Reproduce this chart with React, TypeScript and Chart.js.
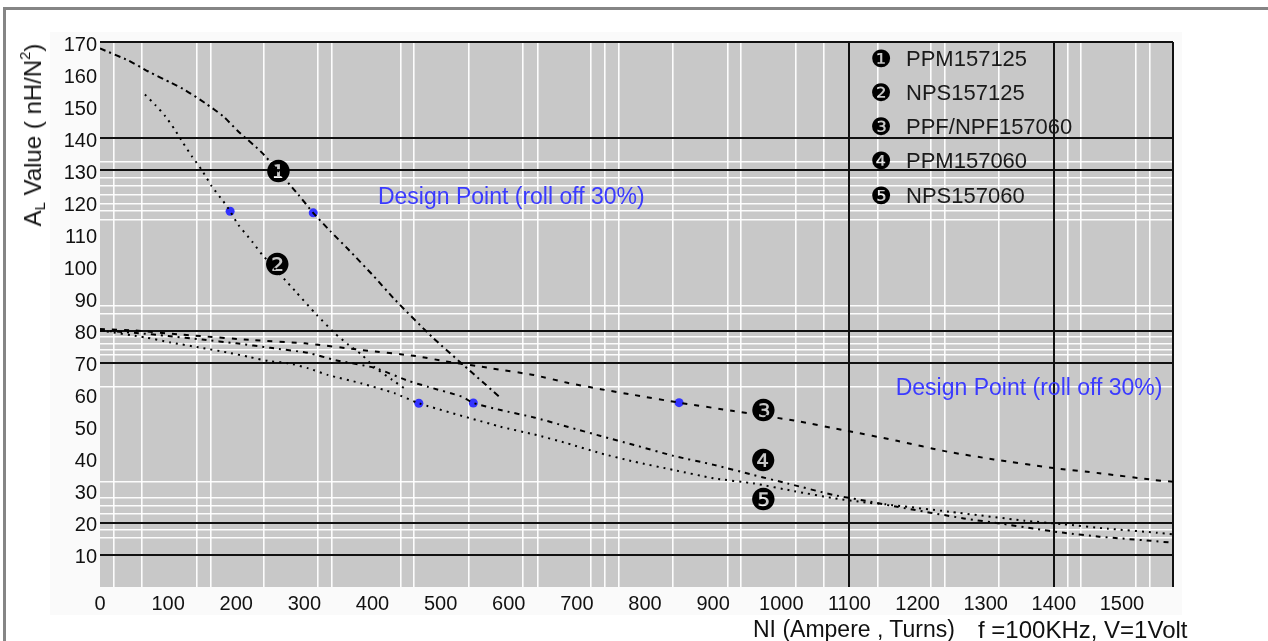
import React, { useEffect, useRef } from 'react';
import { Chart, registerables } from 'chart.js';

Chart.register(...registerables);

// ---------- axes / grid ----------
const xTickValues = [0, 100, 200, 300, 400, 500, 600, 700, 800, 900, 1000, 1100, 1200, 1300, 1400, 1500];
const xMax = 1575;
const yMax = 170;
const yTickValues = [10, 20, 30, 40, 50, 60, 70, 80, 90, 100, 110, 120, 130, 140, 150, 160, 170];
const xMajorLines = [1100, 1400, 1575];
const yMajorLines = [10, 20, 70, 80, 130, 140, 170];
const xMinorLines = [20, 61, 142, 162, 241, 320, 340, 441, 460, 541, 620, 642, 721, 741, 762, 841, 921, 941, 1021, 1062, 1141, 1220, 1240, 1320, 1420, 1440, 1521, 1541];
const yMinorLines = [15.2, 17.8, 22.7, 25.4, 27.8, 32.8, 62.5, 72.4, 74.1, 76, 78, 85.2, 87.8, 114.6, 117.2, 119.5, 122.4, 125, 127.6, 132.6];

// ---------- series ----------
const c1Name = 'PPM157125';
const c1X = [0, 42, 71, 105, 125, 154, 181, 203, 238, 291, 313, 338, 365, 402, 433, 489, 588];
const c1Y = [168, 164.2, 160.8, 157.2, 155, 151, 146.8, 142.1, 135.4, 122.4, 116.7, 111, 105.2, 96.9, 89.6, 77.7, 59];

const c2Name = 'NPS157125';
const c2X = [66, 81, 96, 110, 122, 135, 149, 164, 181, 191, 203, 223, 238, 287, 318, 345, 365, 384, 402, 429, 450];
const c2Y = [153.6, 150.4, 146.8, 142.6, 138.5, 134.3, 130.2, 125, 120.3, 117.2, 113, 107.8, 103.7, 92.2, 84.9, 79.1, 75.5, 72.5, 68.7, 64.6, 61.5];

const c3Name = 'PPF/NPF157060';
const c3X = [0, 51, 115, 140, 225, 301, 385, 465, 504, 575, 637, 686, 735, 784, 850, 930, 1019, 1097, 1170, 1244, 1312, 1396, 1467, 1547, 1575];
const c3Y = [80.5, 80, 78.8, 78.4, 77, 76, 73.9, 72, 70.5, 68.2, 66.1, 63.7, 61.7, 59.9, 57.5, 54.9, 51.9, 48.7, 45.6, 42.2, 39.8, 37.2, 35.5, 33.4, 32.8];

const c4Name = 'PPM157060';
const c4X = [0, 50, 100, 150, 200, 250, 306, 345, 404, 450, 482, 531, 548, 588, 637, 686, 735, 784, 842, 901, 960, 1009, 1077, 1131, 1170, 1268, 1325, 1371, 1415, 1467, 1501, 1543, 1575];
const c4Y = [80, 79.3, 78.3, 77.2, 76, 74.6, 73, 70.8, 68.3, 64.5, 62.4, 59.4, 57.4, 55.2, 52.9, 50, 47.1, 44.3, 40.9, 38.1, 34.9, 32.3, 28.7, 26.6, 25, 21.4, 19.7, 18.2, 16.9, 15.7, 15.1, 14.4, 13.8];

const c5Name = 'NPS157060';
const c5X = [0, 68, 103, 149, 186, 218, 247, 277, 306, 335, 384, 433, 468, 588, 637, 686, 735, 784, 842, 901, 960, 1019, 1077, 1126, 1153, 1246, 1357, 1413, 1479, 1552, 1575];
const c5Y = [80, 77.8, 76.3, 74.6, 73.2, 71.8, 70.5, 69.8, 68.2, 66.1, 63.5, 60.4, 57.3, 50, 47.6, 44.8, 41.7, 39.1, 36.5, 33.9, 32.3, 29.9, 27.7, 26.3, 25.8, 23.5, 20.7, 19.6, 18.2, 16.9, 16.4];

// design points (roll off 30%)
const dpX = [191, 313, 468, 548, 850];
const dpY = [117.2, 116.7, 57.3, 57.4, 57.5];

// in-plot curve number labels
const markerText = ['\u2776', '\u2777', '\u2778', '\u2779', '\u277A'];
const markerX = [262, 260, 974, 974, 974];
const markerY = [129, 100, 54.4, 38.8, 26.8];

// design point captions
const designText = ['Design Point (roll off 30%)', 'Design Point (roll off 30%)'];
const designX = [408, 1168];
const designY = [121.6, 62];

const legendNames = [c1Name, c2Name, c3Name, c4Name, c5Name];

const FONT = '"Liberation Sans", Arial, Helvetica, sans-serif';

const toPts = (xs: number[], ys: number[]) => xs.map((x, i) => ({ x, y: ys[i] }));

const decorPlugin = {
  id: 'decor',
  beforeDraw(chart: any) {
    const { ctx, chartArea: a } = chart;
    ctx.save();
    ctx.fillStyle = '#c8c8c8';
    ctx.fillRect(a.left, a.top, a.right - a.left, a.bottom - a.top);
    ctx.restore();
  },
  afterDatasetsDraw(chart: any) {
    const { ctx, chartArea: a, scales } = chart;
    const xs = scales.x;
    const ys = scales.y;
    ctx.save();
    // design point captions
    ctx.font = `23px ${FONT}`;
    ctx.fillStyle = '#3a3aff';
    ctx.textAlign = 'left';
    ctx.textBaseline = 'middle';
    designText.forEach((t, i) => {
      ctx.fillText(t, xs.getPixelForValue(designX[i]), ys.getPixelForValue(designY[i]));
    });
    // curve markers
    ctx.font = '30px "DejaVu Sans", sans-serif';
    ctx.fillStyle = '#000';
    ctx.textAlign = 'center';
    markerText.forEach((t, i) => {
      ctx.fillText(t, xs.getPixelForValue(markerX[i]), ys.getPixelForValue(markerY[i]) + 1);
    });
    // legend
    const rowOff = [18, 52, 86, 120, 155];
    legendNames.forEach((name, i) => {
      const y = a.top + rowOff[i];
      ctx.font = '24px "DejaVu Sans", sans-serif';
      ctx.fillStyle = '#000';
      ctx.textAlign = 'center';
      ctx.fillText(markerText[i], a.left + 781, y + 1);
      ctx.font = `22px ${FONT}`;
      ctx.fillStyle = '#1a1a1a';
      ctx.textAlign = 'left';
      ctx.fillText(name, a.left + 806, y);
    });
    ctx.restore();
  },
};

export default function App() {
  const ref = useRef<HTMLCanvasElement>(null);

  useEffect(() => {
    if (!ref.current) return;
    const lineDs = (label: string, xs: number[], ys: number[], dash: number[]) => ({
      label,
      data: toPts(xs, ys),
      borderColor: '#000',
      borderWidth: 2,
      borderDash: dash,
      pointRadius: 0,
      fill: false,
      tension: 0.2,
    });
    const chart = new Chart(ref.current, {
      type: 'line',
      data: {
        datasets: [
          lineDs(c1Name, c1X, c1Y, [6, 4, 2, 4]),
          lineDs(c2Name, c2X, c2Y, [2, 5]),
          lineDs(c3Name, c3X, c3Y, [5, 7]),
          lineDs(c4Name, c4X, c4Y, [5, 5, 2, 5]),
          lineDs(c5Name, c5X, c5Y, [2, 5]),
          {
            label: 'Design Point',
            data: toPts(dpX, dpY),
            showLine: false,
            pointRadius: 4.5,
            pointBackgroundColor: '#3333ff',
            pointBorderColor: '#3333ff',
            pointBorderWidth: 0,
          } as any,
        ],
      },
      options: {
        responsive: false,
        animation: false,
        devicePixelRatio: 1,
        layout: { padding: { left: 0, top: 42, right: 95, bottom: 0 } },
        plugins: { legend: { display: false }, tooltip: { enabled: false }, title: { display: false } },
        scales: {
          x: {
            type: 'linear',
            position: 'bottom',
            min: 0,
            max: xMax,
            afterBuildTicks: (s: any) => {
              s.ticks = [...xTickValues, xMax].map((v) => ({ value: v }));
            },
            afterFit: (s: any) => {
              s.height = 54;
            },
            border: { display: false },
            grid: {
              drawTicks: false,
              lineWidth: 2,
              color: (c: any) => (xMajorLines.includes(c.tick && c.tick.value) ? '#111' : 'rgba(0,0,0,0)'),
            },
            ticks: {
              padding: 5,
              color: '#111',
              font: { family: FONT, size: 20 },
              maxRotation: 0,
              autoSkip: false,
              callback: (v: any) => (xTickValues.includes(Number(v)) ? String(v) : ''),
            },
          },
          y: {
            type: 'linear',
            position: 'left',
            min: 0,
            max: yMax,
            afterBuildTicks: (s: any) => {
              s.ticks = yTickValues.map((v) => ({ value: v }));
            },
            afterFit: (s: any) => {
              s.width = 100;
            },
            border: { display: false },
            grid: {
              drawTicks: false,
              lineWidth: 2,
              color: (c: any) => (yMajorLines.includes(c.tick && c.tick.value) ? '#111' : 'rgba(0,0,0,0)'),
            },
            ticks: {
              padding: 3,
              labelOffset: 3,
              color: '#111',
              font: { family: FONT, size: 20 },
              autoSkip: false,
              callback: (v: any) => String(v),
            },
          },
          x2: {
            type: 'linear',
            axis: 'x',
            position: 'top',
            min: 0,
            max: xMax,
            afterBuildTicks: (s: any) => {
              s.ticks = xMinorLines.map((v) => ({ value: v }));
            },
            afterFit: (s: any) => {
              s.height = 0;
            },
            border: { display: false },
            grid: { drawTicks: false, z: -2, color: 'rgba(255,255,255,0.95)', lineWidth: 1.6, borderDash: [4, 3] } as any,
            ticks: { display: false },
          },
          y2: {
            type: 'linear',
            axis: 'y',
            position: 'right',
            min: 0,
            max: yMax,
            afterBuildTicks: (s: any) => {
              s.ticks = yMinorLines.map((v) => ({ value: v }));
            },
            afterFit: (s: any) => {
              s.width = 0;
            },
            border: { display: false },
            grid: { drawTicks: false, z: -2, color: 'rgba(255,255,255,0.95)', lineWidth: 1.6, borderDash: [7, 3, 2, 3] } as any,
            ticks: { display: false },
          },
        } as any,
      },
      plugins: [decorPlugin],
    });
    return () => chart.destroy();
  }, []);

  return (
    <div style={{ position: 'absolute', left: 0, top: 0, width: 1268, height: 641, overflow: 'hidden', background: '#fff' }}>
      <div style={{ position: 'absolute', left: 3, top: 7, width: 1265, height: 634, borderTop: '3px solid #858585', borderLeft: '3px solid #858585', boxSizing: 'border-box' }} />
      <div style={{ position: 'absolute', left: 50, top: 32, width: 1132, height: 583, background: '#fafafa' }} />
      <canvas ref={ref} width={1268} height={641} style={{ position: 'absolute', left: 0, top: 0, display: 'block' }} />
      <div
        style={{
          position: 'absolute',
          left: 33,
          top: 135,
          transform: 'translate(-50%, -50%) rotate(-90deg)',
          font: `24px ${FONT}`,
          lineHeight: '24px',
          whiteSpace: 'nowrap',
          color: '#111',
        }}
      >
        A<sub style={{ fontSize: '0.62em', verticalAlign: '-0.25em', lineHeight: 0 }}>L</sub> Value ( nH/N
        <sup style={{ fontSize: '0.62em', verticalAlign: '0.75em', lineHeight: 0 }}>2</sup>)
      </div>
      <div style={{ position: 'absolute', left: 753, top: 618, font: `23px ${FONT}`, lineHeight: '23px', whiteSpace: 'nowrap', color: '#111' }}>
        NI (Ampere , Turns)
      </div>
      <div style={{ position: 'absolute', left: 978, top: 618, font: `24px ${FONT}`, lineHeight: '24px', whiteSpace: 'nowrap', color: '#111' }}>
        f =100KHz, V=1Volt
      </div>
    </div>
  );
}
